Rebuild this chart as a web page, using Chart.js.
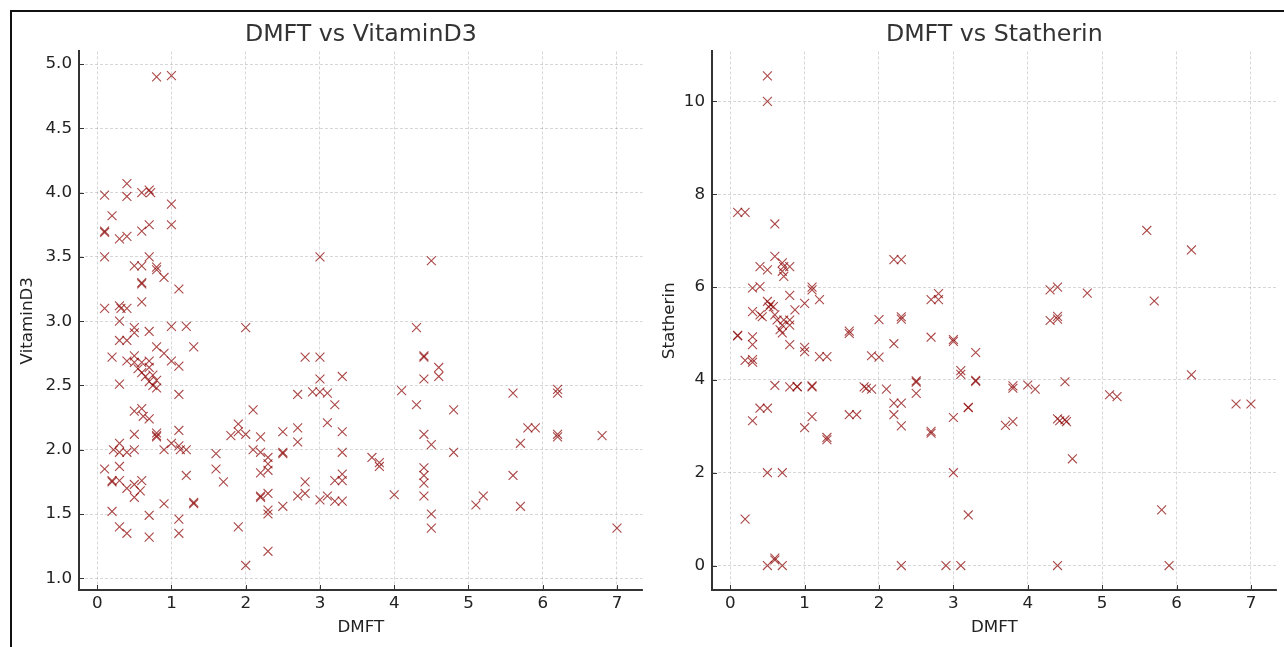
<!DOCTYPE html>
<html lang="en">
<head>
    <meta charset="UTF-8">
    <title>DMFT scatter</title>
    <script src="https://cdn.jsdelivr.net/npm/chart.js"></script>
    <style>
        html, body {
            margin: 0;
            padding: 0;
            background: #fff;
            overflow: hidden;
            width: 1284px;
            height: 647px;
        }
        .frame {
            position: absolute;
            left: 10px;
            top: 10px;
            width: 1300px;
            height: 700px;
            border-left: 2px solid #111;
            border-top: 2px solid #111;
        }
        canvas {
            position: absolute;
            top: 0;
        }
        #chart1 { left: 0; }
        #chart2 { left: 650px; }
    </style>
</head>
<body>
    <div class="frame"></div>
    <canvas id="chart1" width="650" height="647"></canvas>
    <canvas id="chart2" width="634" height="647"></canvas>

    <script>
        // DMFT vs VitaminD3
        const dmftA = [
            0.8, 1.0,
            0.1, 0.4, 0.4, 0.2, 0.6, 0.7, 0.72, 1.0,
            0.1, 0.1, 0.3, 0.4, 0.6, 0.7, 1.0,
            0.1, 0.5, 0.6, 0.7, 0.8, 0.8, 0.9, 0.6, 0.6, 1.1, 0.6,
            0.1, 0.3, 0.32, 0.4, 0.3,
            0.5, 0.5, 0.7, 1.0, 1.2, 2.0, 3.0, 4.5, 4.3,
            0.3, 0.4, 0.8, 1.3, 0.9, 0.2, 0.4, 0.5, 0.5, 0.6, 0.7, 1.0, 1.1,
            0.55, 0.6, 0.7, 0.65, 0.75, 0.7, 0.8, 0.75, 0.8,
            0.3, 1.1,
            0.5, 0.6, 0.62, 0.7,
            0.5, 0.8, 0.8, 0.8, 1.1,
            0.3, 0.22, 0.3, 0.4, 0.5, 0.9, 1.0, 1.1, 1.12, 1.2,
            0.1, 0.3, 0.2, 0.2, 0.3, 0.4, 0.5, 0.6, 0.58, 0.5, 1.2,
            0.9, 1.3, 1.3, 0.2, 0.7, 1.1, 0.3, 0.4, 0.7, 1.1,
            1.6, 1.6, 1.7, 1.8, 1.9, 1.9, 2.0, 2.1, 2.1, 2.2, 2.2, 2.2, 2.3, 2.3, 2.3,
            2.2, 2.2, 2.3, 2.3, 2.3, 2.3, 1.9, 2.0,
            2.5, 2.5, 2.5, 2.5, 2.7, 2.7, 2.7, 2.7, 2.8, 2.8, 2.8,
            3.0, 2.9, 3.0, 3.0, 3.1, 3.0, 3.1, 3.3, 3.2, 3.1, 3.3, 3.3, 3.2, 3.3, 3.3, 3.2, 3.3,
            3.7, 3.8, 3.8, 4.0, 4.1, 4.3, 4.4, 4.4, 4.4, 4.6, 4.6, 4.8, 4.4, 4.5, 4.8,
            4.4, 4.4, 4.4, 4.4, 4.5, 4.5,
            5.1, 5.2, 5.6, 5.6, 5.7, 5.7, 5.8, 5.9, 6.2, 6.2, 6.2, 6.2, 6.8, 7.0
        ];
        const vitaminD3 = [
            4.90, 4.91,
            3.98, 4.07, 3.97, 3.82, 4.00, 4.02, 4.00, 3.91,
            3.70, 3.69, 3.64, 3.66, 3.70, 3.75, 3.75,
            3.50, 3.43, 3.43, 3.50, 3.42, 3.40, 3.34, 3.30, 3.29, 3.25, 3.15,
            3.10, 3.12, 3.10, 3.10, 3.00,
            2.95, 2.91, 2.92, 2.96, 2.96, 2.95, 3.50, 3.47, 2.95,
            2.85, 2.85, 2.80, 2.80, 2.75, 2.72, 2.69, 2.73, 2.68, 2.68, 2.69, 2.69, 2.65,
            2.63, 2.60, 2.64, 2.57, 2.58, 2.53, 2.54, 2.50, 2.48,
            2.51, 2.43,
            2.30, 2.32, 2.26, 2.24,
            2.12, 2.13, 2.11, 2.10, 2.15,
            2.05, 2.00, 1.98, 1.98, 2.00, 2.00, 2.05, 2.03, 2.00, 2.00,
            1.85, 1.87, 1.76, 1.75, 1.76, 1.70, 1.73, 1.76, 1.68, 1.63, 1.80,
            1.58, 1.59, 1.58, 1.52, 1.49, 1.46, 1.40, 1.35, 1.32, 1.35,
            1.97, 1.85, 1.75, 2.11, 2.20, 2.14, 2.12, 2.31, 2.00, 2.10, 1.98, 1.82, 1.94, 1.89, 1.84,
            1.64, 1.63, 1.66, 1.53, 1.50, 1.21, 1.40, 1.10,
            2.14, 1.98, 1.97, 1.56, 2.17, 2.06, 2.43, 1.64, 2.72, 1.75, 1.66,
            2.72, 2.45, 2.55, 2.45, 2.44, 1.61, 1.64, 2.57, 2.35, 2.21, 2.14, 1.98, 1.76, 1.81, 1.76, 1.60, 1.60,
            1.94, 1.90, 1.87, 1.65, 2.46, 2.35, 2.73, 2.72, 2.55, 2.64, 2.57, 2.31, 2.12, 2.04, 1.98,
            1.86, 1.80, 1.74, 1.64, 1.50, 1.39,
            1.57, 1.64, 2.44, 1.80, 2.05, 1.56, 2.17, 2.17, 2.47, 2.44, 2.12, 2.10, 2.11, 1.39
        ];

        // DMFT vs Statherin
        const dmftB = [
            0.5, 0.5, 0.1, 0.2, 0.6, 0.6, 0.4, 0.5, 0.7, 0.72, 0.8, 0.7, 0.72,
            0.3, 0.4, 1.1, 1.1, 0.8, 1.2, 1.0, 0.87, 0.5, 0.54, 0.58, 0.52,
            0.3, 0.4, 0.43, 0.6, 0.63, 0.72, 0.8, 0.7, 0.8, 0.67, 0.7,
            0.1, 0.1, 0.3, 0.3, 0.8, 1.0, 1.0, 1.6, 1.6, 0.2, 0.3, 0.3, 1.2, 1.3,
            0.6, 0.8, 0.9, 0.9, 1.1, 1.1, 0.4, 0.5, 0.3, 1.1, 1.0, 1.3, 1.3,
            0.5, 0.7, 0.2, 0.5, 0.7, 0.6, 0.6,
            2.0, 2.3, 2.3, 2.2, 2.3, 2.7, 2.8, 2.8, 1.6, 1.7, 1.8, 1.83, 1.9, 1.9, 2.0,
            2.2, 2.1, 2.5, 2.5, 2.5, 2.2, 2.3, 2.2, 2.3, 2.7, 2.7, 2.7,
            3.0, 3.0, 3.0, 3.0, 3.1, 3.1, 3.2, 3.2, 3.2, 2.3, 2.9, 3.1,
            3.3, 3.3, 3.3, 3.8, 3.8, 4.0, 4.1, 4.5, 3.7, 3.8, 4.4, 4.43, 4.5, 4.52,
            4.6, 5.1, 5.2, 6.2, 6.8, 7.0, 5.8, 5.9, 4.4,
            4.3, 4.4, 4.8, 5.7, 4.3, 4.4, 4.4, 5.6, 6.2
        ];
        const statherin = [
            10.55, 10.0, 7.61, 7.61, 7.36, 6.66, 6.44, 6.37, 6.52, 6.44, 6.44, 6.34, 6.23,
            5.98, 6.01, 6.00, 5.94, 5.82, 5.73, 5.65, 5.51, 5.69, 5.62, 5.58, 5.57,
            5.47, 5.40, 5.36, 5.40, 5.29, 5.29, 5.29, 5.18, 5.18, 5.08, 5.01,
            4.96, 4.95, 4.93, 4.76, 4.76, 4.70, 4.61, 5.05, 5.00, 4.42, 4.44, 4.38, 4.50, 4.50,
            3.88, 3.85, 3.86, 3.85, 3.87, 3.85, 3.39, 3.39, 3.12, 3.21, 2.97, 2.76, 2.71,
            2.00, 2.00, 1.00, 0.00, 0.00, 0.16, 0.12,
            5.30, 5.36, 5.31, 6.59, 6.59, 5.73, 5.86, 5.73, 3.25, 3.25, 3.85, 3.82, 3.80, 4.52, 4.49,
            4.78, 3.80, 3.98, 3.95, 3.71, 3.50, 3.50, 3.25, 3.01, 4.92, 2.89, 2.85,
            4.87, 4.83, 3.19, 2.00, 4.20, 4.12, 3.41, 3.40, 1.09, 0.00, 0.00, 0.00,
            4.59, 3.99, 3.97, 3.87, 3.82, 3.89, 3.80, 3.96, 3.02, 3.10, 3.16, 3.12, 3.14, 3.10,
            2.30, 3.68, 3.64, 4.11, 3.48, 3.48, 1.20, 0.00, 0.00,
            5.94, 6.00, 5.87, 5.70, 5.28, 5.37, 5.31, 7.22, 6.80
        ];

        const xTicks = [0, 1, 2, 3, 4, 5, 6, 7];
        const vitTicks = [1.0, 1.5, 2.0, 2.5, 3.0, 3.5, 4.0, 4.5, 5.0];
        const statTicks = [0, 2, 4, 6, 8, 10];

        const font = 'DejaVu Sans';
        const gridColor = 'rgba(0, 0, 0, 0.2)';
        const spineColor = '#333';
        const markerColor = 'rgba(139, 0, 0, 0.72)';

        // ticks pointing into the plot, like matplotlib 'in'
        const inwardTicks = {
            id: 'inwardTicks',
            afterDraw(chart) {
                const { ctx, chartArea, scales } = chart;
                ctx.save();
                ctx.strokeStyle = spineColor;
                ctx.lineWidth = 1;
                ctx.beginPath();
                scales.x.ticks.forEach(t => {
                    const px = Math.round(scales.x.getPixelForValue(t.value)) + 0.5;
                    ctx.moveTo(px, chartArea.bottom);
                    ctx.lineTo(px, chartArea.bottom - 5);
                });
                scales.y.ticks.forEach(t => {
                    const py = Math.round(scales.y.getPixelForValue(t.value)) + 0.5;
                    ctx.moveTo(chartArea.left, py);
                    ctx.lineTo(chartArea.left + 5, py);
                });
                ctx.stroke();
                ctx.restore();
            }
        };

        function makeChart(canvasId, title, xs, ys, yLabel, yMin, yMax, yTicks, yFmt, yWidth, yTitlePad) {
            const points = xs.map((x, i) => ({ x: x, y: ys[i] }));
            return new Chart(document.getElementById(canvasId), {
                type: 'scatter',
                data: {
                    datasets: [{
                        data: points,
                        pointStyle: 'crossRot',
                        pointRadius: 6.3,
                        pointHoverRadius: 6.3,
                        borderWidth: 1.1,
                        borderColor: markerColor,
                        backgroundColor: markerColor
                    }]
                },
                options: {
                    responsive: false,
                    animation: false,
                    events: [],
                    layout: { padding: { left: 0, right: 6, top: 0, bottom: 0 } },
                    plugins: {
                        legend: { display: false },
                        tooltip: { enabled: false },
                        title: {
                            display: true,
                            text: title,
                            fullSize: false,
                            color: '#333',
                            font: { family: font, size: 23.7, weight: 'normal' },
                            padding: { top: 21, bottom: 2 }
                        }
                    },
                    scales: {
                        x: {
                            type: 'linear',
                            min: -0.245,
                            max: 7.345,
                            afterBuildTicks: s => { s.ticks = xTicks.map(v => ({ value: v })); },
                            afterFit: s => { s.height = 57; },
                            ticks: {
                                color: '#222',
                                padding: 4,
                                font: { family: font, size: 16.7 },
                                callback: v => String(v)
                            },
                            grid: {
                                color: gridColor,
                                lineWidth: 0.8,
                                drawTicks: false
                            },
                            border: { display: true, color: spineColor, width: 2, dash: [3, 2] },
                            title: {
                                display: true,
                                text: 'DMFT',
                                color: '#222',
                                font: { family: font, size: 16.7 },
                                padding: { top: 0, bottom: 9 }
                            }
                        },
                        y: {
                            type: 'linear',
                            min: yMin,
                            max: yMax,
                            afterBuildTicks: s => { s.ticks = yTicks.map(v => ({ value: v })); },
                            afterFit: s => { s.width = yWidth; },
                            ticks: {
                                color: '#222',
                                padding: 7,
                                font: { family: font, size: 16.7 },
                                callback: yFmt
                            },
                            grid: {
                                color: gridColor,
                                lineWidth: 0.8,
                                drawTicks: false
                            },
                            border: { display: true, color: spineColor, width: 2, dash: [3, 2] },
                            title: {
                                display: true,
                                text: yLabel,
                                color: '#222',
                                font: { family: font, size: 16.7 },
                                padding: { top: yTitlePad, bottom: 0 }
                            }
                        }
                    }
                },
                plugins: [inwardTicks]
            });
        }

        makeChart('chart1', 'DMFT vs VitaminD3', dmftA, vitaminD3, 'VitaminD3',
            0.909, 5.098, vitTicks, v => v.toFixed(1), 79, 18);
        makeChart('chart2', 'DMFT vs Statherin', dmftB, statherin, 'Statherin',
            -0.527, 11.077, statTicks, v => String(v), 62, 10);
    </script>
</body>
</html>
